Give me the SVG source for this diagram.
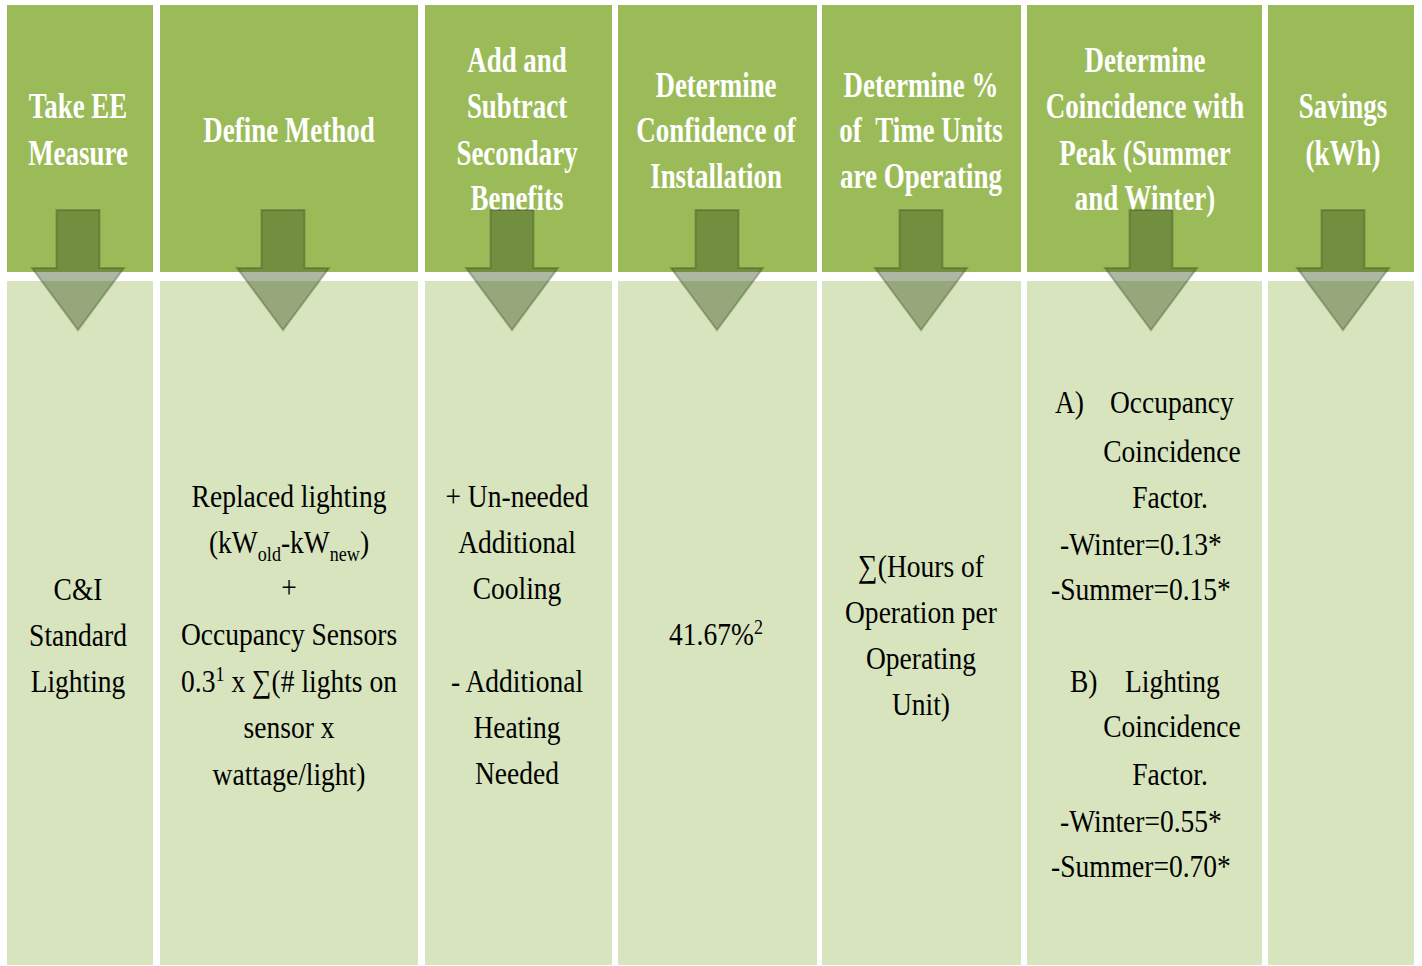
<svg xmlns="http://www.w3.org/2000/svg" width="1422" height="966" viewBox="0 0 1422 966">
<defs>
<style>
.hdr{fill:#9BBB59}
.bd{fill:#D7E4BD}
.h{font-family:"Liberation Serif","Times New Roman",serif;font-weight:bold;font-size:35px;fill:#FFFFFF;text-anchor:middle}
.b{font-family:"Liberation Serif","Times New Roman",serif;font-size:32px;fill:#000000;text-anchor:middle}
.s{font-size:21px}
.arrow{fill:rgb(52,76,24);fill-opacity:0.4;stroke:rgb(52,76,24);stroke-opacity:0.35;stroke-width:2;stroke-linejoin:miter}
</style>
</defs>
<rect x="0" y="0" width="1422" height="966" fill="#FFFFFF"/>
<g id="col1">
<rect class="hdr" x="7" y="5" width="146" height="267"/>
<rect class="bd" x="7" y="281" width="146" height="684"/>
<text class="h" transform="translate(78 0) scale(0.77 1)"><tspan x="0" y="118">Take EE</tspan><tspan x="0" y="165">Measure</tspan></text>
<text class="b" transform="translate(78 0) scale(0.86 1)"><tspan x="0" y="600">C&amp;I</tspan><tspan x="0" y="646">Standard</tspan><tspan x="0" y="692">Lighting</tspan></text>
</g>
<g id="col2">
<rect class="hdr" x="160" y="5" width="258" height="267"/>
<rect class="bd" x="160" y="281" width="258" height="684"/>
<text class="h" transform="translate(289 0) scale(0.77 1)"><tspan x="0" y="142">Define Method</tspan></text>
<text class="b" transform="translate(289 0) scale(0.86 1)"><tspan x="0" y="507">Replaced lighting</tspan><tspan x="0" y="553">(kW<tspan class="s" dy="8">old</tspan><tspan dy="-8">-kW</tspan><tspan class="s" dy="8">new</tspan><tspan dy="-8">)</tspan></tspan><tspan x="0" y="598">+</tspan><tspan x="0" y="645">Occupancy Sensors</tspan><tspan x="0" y="692">0.3<tspan class="s" dy="-11">1</tspan><tspan dy="11"> x ∑(# lights on</tspan></tspan><tspan x="0" y="738">sensor x</tspan><tspan x="0" y="785">wattage/light)</tspan></text>
</g>
<g id="col3">
<rect class="hdr" x="425" y="5" width="187" height="267"/>
<rect class="bd" x="425" y="281" width="187" height="684"/>
<text class="h" transform="translate(517 0) scale(0.77 1)"><tspan x="0" y="72">Add and</tspan><tspan x="0" y="118">Subtract</tspan><tspan x="0" y="165">Secondary</tspan><tspan x="0" y="210">Benefits</tspan></text>
<text class="b" transform="translate(517 0) scale(0.86 1)"><tspan x="0" y="507">+ Un-needed</tspan><tspan x="0" y="553">Additional</tspan><tspan x="0" y="599">Cooling</tspan><tspan x="0" y="692">- Additional</tspan><tspan x="0" y="738">Heating</tspan><tspan x="0" y="784">Needed</tspan></text>
</g>
<g id="col4">
<rect class="hdr" x="618" y="5" width="199" height="267"/>
<rect class="bd" x="618" y="281" width="199" height="684"/>
<text class="h" transform="translate(716 0) scale(0.77 1)"><tspan x="0" y="97">Determine</tspan><tspan x="0" y="142">Confidence of</tspan><tspan x="0" y="188">Installation</tspan></text>
<text class="b" transform="translate(716 0) scale(0.86 1)"><tspan x="0" y="645">41.67%<tspan class="s" dy="-11">2</tspan></tspan></text>
</g>
<g id="col5">
<rect class="hdr" x="822" y="5" width="199" height="267"/>
<rect class="bd" x="822" y="281" width="199" height="684"/>
<text class="h" transform="translate(921 0) scale(0.77 1)"><tspan x="0" y="97">Determine %</tspan><tspan x="0" y="142">of &#160;Time Units</tspan><tspan x="0" y="188">are Operating</tspan></text>
<text class="b" transform="translate(921 0) scale(0.86 1)"><tspan x="0" y="577">∑(Hours of</tspan><tspan x="0" y="623">Operation per</tspan><tspan x="0" y="669">Operating</tspan><tspan x="0" y="715">Unit)</tspan></text>
</g>
<g id="col6">
<rect class="hdr" x="1027" y="5" width="235" height="267"/>
<rect class="bd" x="1027" y="281" width="235" height="684"/>
<text class="h" transform="translate(1145 0) scale(0.77 1)"><tspan x="0" y="72">Determine</tspan><tspan x="0" y="118">Coincidence with</tspan><tspan x="0" y="165">Peak (Summer</tspan><tspan x="0" y="210">and Winter)</tspan></text>
<text class="b" transform="translate(1145 0) scale(0.86 1)"><tspan x="-104.7" y="413" text-anchor="start">A)</tspan><tspan x="-40.7" y="413" text-anchor="start">Occupancy</tspan><tspan x="31.4" y="462">Coincidence</tspan><tspan x="29" y="508">Factor.</tspan><tspan x="-4.7" y="555">-Winter=0.13*</tspan><tspan x="-4.7" y="600">-Summer=0.15*</tspan><tspan x="-87.2" y="692" text-anchor="start">B)</tspan><tspan x="-23.3" y="692" text-anchor="start">Lighting</tspan><tspan x="31.4" y="737">Coincidence</tspan><tspan x="29" y="785">Factor.</tspan><tspan x="-4.7" y="832">-Winter=0.55*</tspan><tspan x="-4.7" y="877">-Summer=0.70*</tspan></text>
</g>
<g id="col7">
<rect class="hdr" x="1268" y="5" width="146" height="267"/>
<rect class="bd" x="1268" y="281" width="146" height="684"/>
<text class="h" transform="translate(1343 0) scale(0.77 1)"><tspan x="0" y="118">Savings</tspan><tspan x="0" y="165">(kWh)</tspan></text>
</g>
<g id="connectors">
<polygon class="arrow" points="56.5,210 99.5,210 99.5,268 124,268 78,330 32,268 56.5,268"/>
<polygon class="arrow" points="261.5,210 304.5,210 304.5,268 329,268 283,330 237,268 261.5,268"/>
<polygon class="arrow" points="490.5,210 533.5,210 533.5,268 558,268 512,330 466,268 490.5,268"/>
<polygon class="arrow" points="695.5,210 738.5,210 738.5,268 763,268 717,330 671,268 695.5,268"/>
<polygon class="arrow" points="899.5,210 942.5,210 942.5,268 967,268 921,330 875,268 899.5,268"/>
<polygon class="arrow" points="1129.5,210 1172.5,210 1172.5,268 1197,268 1151,330 1105,268 1129.5,268"/>
<polygon class="arrow" points="1321.5,210 1364.5,210 1364.5,268 1389,268 1343,330 1297,268 1321.5,268"/>
</g>
</svg>
